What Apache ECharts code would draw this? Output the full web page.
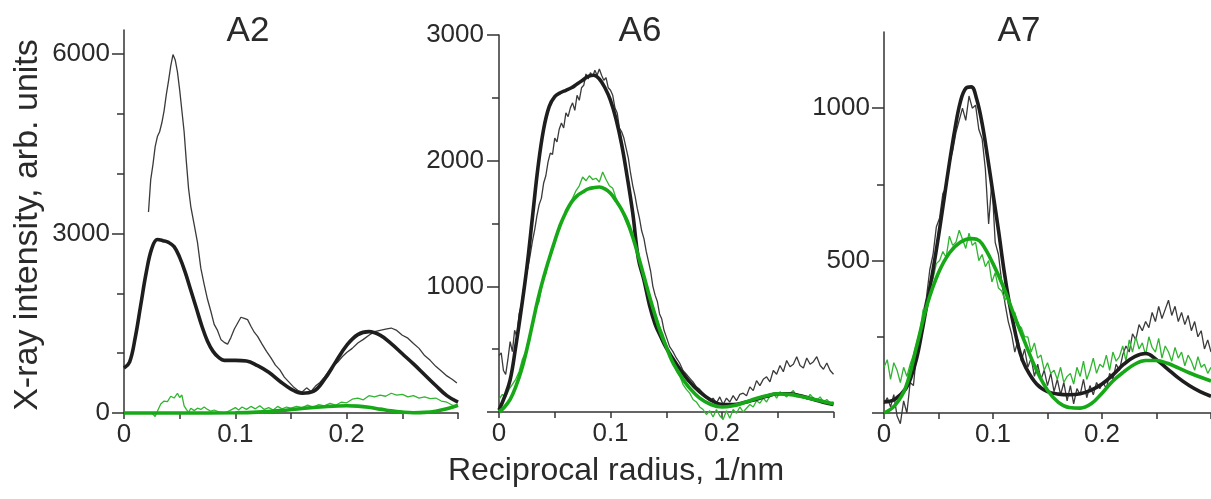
<!DOCTYPE html>
<html>
<head>
<meta charset="utf-8">
<script src="https://cdn.jsdelivr.net/npm/echarts@6/dist/echarts.min.js"></script>
<style>
html,body{margin:0;padding:0;background:#fff;}
#chart{width:1211px;height:499px;}
</style>
</head>
<body>
<div id="chart"></div>
<script>
// ---------- Panel titles & axis names ----------
const panelTitles = ['A2', 'A6', 'A7'];
const yAxisName = 'X-ray intensity, arb. units';
const xAxisName = 'Reciprocal radius, 1/nm';

// ---------- X ticks (shared) ----------
const xTickValues = [0, 0.05, 0.1, 0.15, 0.2, 0.25, 0.3];
const xLabelValues = [0, 0.1, 0.2];

// ---------- Y ticks per panel ----------
const A2_yMinorTicks = [0, 1000, 2000, 3000, 4000, 5000, 6000];
const A2_yLabels = [0, 3000, 6000];
const A6_yMinorTicks = [0, 500, 1000, 1500, 2000, 2500, 3000];
const A6_yLabels = [1000, 2000, 3000];
const A6_yMajorTicks = [0, 1000, 2000, 3000];
const A7_yMinorTicks = [0, 250, 500, 750, 1000];
const A7_yLabels = [500, 1000];
const A7_yMajorTicks = [0, 500, 1000];

// ---------- A2 ----------
const A2_expBlack = [[0.022,3360],[0.024,3900],[0.026,4150],[0.028,4450],[0.030,4620],[0.032,4700],[0.034,4850],[0.036,5050],[0.038,5320],[0.040,5550],[0.042,5800],[0.044,5990],[0.046,5900],[0.048,5700],[0.050,5400],[0.052,5050],[0.054,4700],[0.056,4200],[0.058,3750],[0.060,3450],[0.063,3150],[0.066,2850],[0.069,2420],[0.072,2150],[0.075,1900],[0.078,1700],[0.081,1480],[0.084,1380],[0.087,1230],[0.090,1180],[0.093,1150],[0.096,1260],[0.099,1400],[0.102,1500],[0.105,1600],[0.108,1580],[0.111,1560],[0.114,1450],[0.117,1350],[0.120,1280],[0.124,1150],[0.128,1030],[0.132,920],[0.136,800],[0.140,720],[0.144,600],[0.148,520],[0.152,440],[0.156,380],[0.160,350],[0.164,420],[0.168,360],[0.172,450],[0.176,510],[0.180,600],[0.184,700],[0.188,780],[0.192,850],[0.196,940],[0.200,1010],[0.205,1080],[0.210,1170],[0.215,1230],[0.220,1300],[0.225,1360],[0.230,1380],[0.235,1400],[0.240,1420],[0.245,1380],[0.250,1300],[0.255,1250],[0.260,1160],[0.265,1080],[0.270,960],[0.275,880],[0.280,780],[0.285,700],[0.290,620],[0.295,560],[0.299,500]];
const A2_fitBlack = [[0,750],[0.005,850],[0.01,1250],[0.015,1800],[0.02,2350],[0.025,2750],[0.03,2900],[0.035,2880],[0.04,2850],[0.045,2780],[0.05,2600],[0.055,2350],[0.06,2050],[0.065,1750],[0.07,1450],[0.075,1200],[0.08,1030],[0.085,930],[0.09,880],[0.1,880],[0.11,870],[0.12,790],[0.13,680],[0.14,530],[0.15,400],[0.16,330],[0.17,360],[0.18,560],[0.19,850],[0.2,1130],[0.21,1310],[0.22,1360],[0.23,1300],[0.24,1160],[0.25,990],[0.26,820],[0.27,640],[0.28,460],[0.29,290],[0.3,180]];
const A2_expGreen = [[0,0],[0.005,0],[0.01,0],[0.015,0],[0.02,0],[0.025,0],[0.028,-60],[0.03,30],[0.033,150],[0.036,200],[0.039,190],[0.042,280],[0.045,250],[0.048,330],[0.05,260],[0.052,300],[0.054,120],[0.056,60],[0.058,10],[0.06,80],[0.063,40],[0.066,80],[0.069,60],[0.072,100],[0.075,60],[0.078,30],[0.081,50],[0.085,20],[0.09,0],[0.095,40],[0.1,90],[0.103,50],[0.106,100],[0.11,60],[0.114,110],[0.118,70],[0.122,120],[0.126,60],[0.13,90],[0.134,50],[0.138,110],[0.142,70],[0.146,100],[0.15,80],[0.155,110],[0.16,90],[0.165,130],[0.17,100],[0.175,140],[0.18,120],[0.185,160],[0.19,130],[0.195,180],[0.2,170],[0.205,230],[0.21,250],[0.215,220],[0.22,290],[0.225,270],[0.23,300],[0.235,280],[0.24,330],[0.245,300],[0.25,310],[0.255,270],[0.26,290],[0.265,250],[0.27,270],[0.275,240],[0.28,250],[0.285,200],[0.29,180],[0.295,130],[0.299,100]];
const A2_fitGreen = [[0,0],[0.05,0],[0.1,5],[0.12,15],[0.14,40],[0.16,75],[0.18,105],[0.2,120],[0.21,115],[0.22,95],[0.23,65],[0.24,35],[0.25,15],[0.26,5],[0.27,10],[0.28,30],[0.29,70],[0.3,130]];

// ---------- A6 ----------
const A6_expBlack = [[0,450],[0.002,470],[0.004,330],[0.006,300],[0.008,420],[0.01,560],[0.012,480],[0.014,650],[0.016,600],[0.018,780],[0.02,850],[0.022,980],[0.024,1080],[0.026,1150],[0.028,1250],[0.03,1360],[0.032,1450],[0.034,1560],[0.036,1650],[0.038,1700],[0.04,1820],[0.042,1880],[0.044,1990],[0.046,2060],[0.048,2050],[0.05,2180],[0.052,2150],[0.054,2250],[0.056,2300],[0.058,2260],[0.06,2380],[0.062,2350],[0.064,2420],[0.066,2460],[0.068,2400],[0.07,2520],[0.072,2480],[0.074,2580],[0.076,2600],[0.078,2690],[0.08,2650],[0.082,2700],[0.084,2670],[0.086,2720],[0.088,2680],[0.09,2730],[0.092,2680],[0.094,2640],[0.096,2660],[0.098,2580],[0.1,2560],[0.102,2520],[0.104,2420],[0.106,2380],[0.108,2260],[0.11,2230],[0.112,2180],[0.114,2100],[0.116,2020],[0.118,1900],[0.12,1800],[0.122,1720],[0.124,1620],[0.126,1540],[0.128,1440],[0.13,1380],[0.132,1280],[0.134,1200],[0.136,1120],[0.138,1000],[0.14,930],[0.142,880],[0.144,780],[0.146,740],[0.148,650],[0.15,600],[0.153,520],[0.156,480],[0.159,430],[0.162,390],[0.165,330],[0.168,300],[0.171,270],[0.174,240],[0.177,200],[0.18,180],[0.183,150],[0.186,120],[0.189,90],[0.192,110],[0.195,70],[0.198,120],[0.201,60],[0.204,110],[0.207,80],[0.21,130],[0.213,90],[0.216,140],[0.219,150],[0.222,130],[0.225,200],[0.228,170],[0.231,250],[0.234,210],[0.237,260],[0.24,280],[0.243,240],[0.246,330],[0.249,300],[0.252,370],[0.255,320],[0.258,410],[0.261,360],[0.264,380],[0.267,440],[0.27,370],[0.273,350],[0.276,430],[0.279,380],[0.282,400],[0.285,440],[0.288,370],[0.291,340],[0.294,390],[0.297,330],[0.3,300]];
const A6_fitBlack = [[0,15],[0.005,120],[0.01,255],[0.015,520],[0.02,820],[0.025,1150],[0.03,1550],[0.035,1950],[0.04,2250],[0.045,2430],[0.05,2510],[0.055,2540],[0.06,2560],[0.065,2580],[0.07,2610],[0.075,2640],[0.08,2670],[0.085,2680],[0.09,2650],[0.095,2580],[0.1,2480],[0.105,2330],[0.11,2130],[0.115,1870],[0.12,1580],[0.125,1220],[0.13,1050],[0.135,850],[0.14,700],[0.145,600],[0.15,510],[0.16,370],[0.17,250],[0.18,160],[0.19,95],[0.2,60],[0.21,60],[0.22,75],[0.23,100],[0.24,125],[0.25,145],[0.26,145],[0.27,130],[0.28,105],[0.29,80],[0.3,60]];
const A6_expGreen = [[0,100],[0.003,140],[0.006,120],[0.009,180],[0.012,220],[0.015,260],[0.018,320],[0.021,420],[0.024,480],[0.027,600],[0.03,680],[0.033,820],[0.036,880],[0.039,1040],[0.042,1100],[0.045,1220],[0.048,1290],[0.051,1380],[0.054,1480],[0.057,1530],[0.06,1610],[0.063,1640],[0.066,1700],[0.069,1760],[0.072,1800],[0.075,1870],[0.078,1840],[0.081,1880],[0.084,1850],[0.087,1860],[0.09,1830],[0.093,1910],[0.096,1850],[0.099,1800],[0.102,1780],[0.105,1700],[0.108,1640],[0.111,1580],[0.114,1510],[0.117,1450],[0.12,1380],[0.123,1290],[0.126,1190],[0.129,1120],[0.132,1010],[0.135,930],[0.138,840],[0.141,760],[0.144,680],[0.147,620],[0.15,540],[0.153,450],[0.156,400],[0.159,330],[0.162,290],[0.165,220],[0.168,180],[0.171,150],[0.174,100],[0.177,80],[0.18,40],[0.183,20],[0.186,-20],[0.189,10],[0.192,-40],[0.195,20],[0.198,-30],[0.201,-60],[0.204,10],[0.207,-50],[0.21,20],[0.213,-10],[0.216,40],[0.219,0],[0.222,30],[0.225,60],[0.228,40],[0.231,90],[0.234,70],[0.237,110],[0.24,80],[0.243,130],[0.246,150],[0.249,110],[0.252,160],[0.255,140],[0.258,120],[0.261,150],[0.264,170],[0.267,120],[0.27,140],[0.273,130],[0.276,100],[0.279,140],[0.282,110],[0.285,90],[0.288,120],[0.291,80],[0.294,100],[0.297,70],[0.3,80]];
const A6_fitGreen = [[0,0],[0.005,40],[0.01,100],[0.015,200],[0.02,330],[0.025,500],[0.03,700],[0.035,900],[0.04,1070],[0.045,1220],[0.05,1360],[0.055,1490],[0.06,1590],[0.065,1670],[0.07,1720],[0.075,1750],[0.08,1775],[0.085,1785],[0.09,1790],[0.095,1775],[0.1,1740],[0.105,1680],[0.11,1610],[0.115,1520],[0.12,1390],[0.125,1240],[0.13,1080],[0.135,920],[0.14,770],[0.145,630],[0.15,520],[0.155,410],[0.16,330],[0.165,260],[0.17,200],[0.18,110],[0.19,60],[0.2,40],[0.21,50],[0.22,75],[0.23,105],[0.24,130],[0.25,145],[0.26,140],[0.27,125],[0.28,105],[0.29,85],[0.3,65]];

// ---------- A7 ----------
const A7_expBlack = [[0,30],[0.003,50],[0.006,20],[0.009,60],[0.012,-10],[0.015,-35],[0.018,40],[0.021,0],[0.024,100],[0.027,90],[0.03,200],[0.033,240],[0.036,330],[0.039,380],[0.042,470],[0.045,520],[0.048,610],[0.051,640],[0.054,720],[0.057,740],[0.06,820],[0.063,860],[0.066,920],[0.069,960],[0.072,1000],[0.075,960],[0.078,1040],[0.081,1000],[0.084,1010],[0.087,930],[0.09,900],[0.093,800],[0.096,620],[0.099,760],[0.102,560],[0.105,520],[0.108,430],[0.111,360],[0.114,300],[0.117,260],[0.12,200],[0.123,240],[0.126,170],[0.129,210],[0.132,150],[0.135,180],[0.138,120],[0.141,160],[0.144,110],[0.147,140],[0.15,90],[0.153,130],[0.156,70],[0.159,110],[0.162,60],[0.165,100],[0.168,40],[0.171,90],[0.174,30],[0.177,80],[0.18,60],[0.183,110],[0.186,50],[0.189,90],[0.192,60],[0.195,100],[0.198,80],[0.201,100],[0.204,80],[0.207,130],[0.21,110],[0.213,160],[0.216,140],[0.219,190],[0.222,220],[0.225,200],[0.228,260],[0.231,240],[0.234,290],[0.237,270],[0.24,300],[0.243,280],[0.246,330],[0.249,300],[0.252,350],[0.255,310],[0.258,340],[0.261,370],[0.264,320],[0.267,350],[0.27,300],[0.273,330],[0.276,290],[0.279,320],[0.282,270],[0.285,300],[0.288,250],[0.291,270],[0.294,210],[0.297,240],[0.3,200]];
const A7_fitBlack = [[0,36],[0.01,45],[0.02,80],[0.025,120],[0.03,180],[0.035,270],[0.04,370],[0.045,470],[0.05,580],[0.055,700],[0.06,820],[0.065,930],[0.07,1020],[0.075,1065],[0.08,1070],[0.085,1030],[0.09,950],[0.095,840],[0.1,720],[0.105,600],[0.11,470],[0.115,360],[0.12,270],[0.125,195],[0.13,150],[0.14,95],[0.15,70],[0.16,62],[0.17,60],[0.18,63],[0.19,75],[0.2,95],[0.21,125],[0.22,160],[0.23,185],[0.24,195],[0.25,175],[0.26,145],[0.27,115],[0.28,90],[0.29,70],[0.3,55]];
const A7_expGreen = [[0,150],[0.003,175],[0.006,110],[0.009,165],[0.012,140],[0.015,100],[0.018,150],[0.021,120],[0.024,160],[0.027,190],[0.03,230],[0.033,270],[0.036,340],[0.039,350],[0.042,430],[0.045,440],[0.048,490],[0.051,500],[0.054,530],[0.057,510],[0.06,580],[0.063,550],[0.066,560],[0.069,600],[0.072,570],[0.075,540],[0.078,590],[0.081,550],[0.084,560],[0.087,500],[0.09,520],[0.093,480],[0.096,500],[0.099,430],[0.102,460],[0.105,410],[0.108,400],[0.111,370],[0.114,390],[0.117,330],[0.12,330],[0.123,290],[0.126,280],[0.129,250],[0.132,250],[0.135,200],[0.138,230],[0.141,180],[0.144,190],[0.147,140],[0.15,165],[0.153,130],[0.156,140],[0.159,110],[0.162,150],[0.165,100],[0.168,120],[0.171,130],[0.174,95],[0.177,150],[0.18,120],[0.183,170],[0.186,110],[0.189,140],[0.192,180],[0.195,130],[0.198,160],[0.201,150],[0.204,190],[0.207,140],[0.21,200],[0.213,170],[0.216,185],[0.219,220],[0.222,170],[0.225,240],[0.228,200],[0.231,250],[0.234,210],[0.237,230],[0.24,190],[0.243,250],[0.246,215],[0.249,200],[0.252,245],[0.255,180],[0.258,220],[0.261,200],[0.264,170],[0.267,215],[0.27,180],[0.273,200],[0.276,155],[0.279,190],[0.282,170],[0.285,140],[0.288,185],[0.291,150],[0.294,160],[0.297,130],[0.3,150]];
const A7_fitGreen = [[0,0],[0.01,25],[0.02,85],[0.03,220],[0.04,360],[0.05,460],[0.06,525],[0.07,560],[0.08,572],[0.085,570],[0.09,555],[0.1,490],[0.11,410],[0.12,315],[0.13,225],[0.14,140],[0.15,75],[0.16,35],[0.17,18],[0.18,16],[0.19,30],[0.2,65],[0.21,105],[0.22,135],[0.23,160],[0.24,172],[0.25,172],[0.26,163],[0.27,148],[0.28,132],[0.29,118],[0.3,105]];

// ---------- Styling ----------
const FONT = '"Liberation Sans", Arial, Helvetica, sans-serif';
const TEXT = '#2a2a2a';
const AXIS = '#333';
const C_THICK_BLACK = '#1e1e1e';
const C_THIN_BLACK = '#3a3a3a';
const C_THICK_GREEN = '#17a817';
const C_THIN_GREEN = '#2fb52f';

const panels = [
  { grid: { left: 124, top: 30, width: 334, height: 383 }, yMax: 6400,
    minor: A2_yMinorTicks, major: A2_yLabels, labels: A2_yLabels, labelMargin: 14,
    exp: A2_expBlack, fit: A2_fitBlack, expG: A2_expGreen, fitG: A2_fitGreen },
  { grid: { left: 499, top: 35, width: 334.5, height: 377 }, yMax: 3000,
    minor: A6_yMinorTicks, major: A6_yMajorTicks, labels: A6_yLabels, labelMargin: 15,
    exp: A6_expBlack, fit: A6_fitBlack, expG: A6_expGreen, fitG: A6_fitGreen },
  { grid: { left: 884, top: 32, width: 333, height: 381 }, yMax: 1250,
    minor: A7_yMinorTicks, major: A7_yMajorTicks, labels: A7_yLabels, labelMargin: 14,
    exp: A7_expBlack, fit: A7_fitBlack, expG: A7_expGreen, fitG: A7_fitGreen }
];

const grids = [], xAxes = [], yAxes = [], series = [];
panels.forEach((p, i) => {
  grids.push(Object.assign({ containLabel: false }, p.grid));
  xAxes.push({
    type: 'value', gridIndex: i, min: 0, max: 0.3,
    axisLine: { show: true, lineStyle: { color: AXIS, width: 1.5 } },
    axisTick: { show: true, length: 6, customValues: xTickValues, lineStyle: { color: AXIS, width: 1.5 } },
    axisLabel: { show: true, customValues: xLabelValues, fontSize: 26, margin: 9, color: TEXT, fontFamily: FONT,
                 formatter: v => String(v) },
    splitLine: { show: false }
  });
  // main y axis with short ticks and labels
  yAxes.push({
    type: 'value', gridIndex: i, min: 0, max: p.yMax, position: 'left',
    axisLine: { show: true, lineStyle: { color: AXIS, width: 1.5 } },
    axisTick: { show: true, length: 7, customValues: p.minor, lineStyle: { color: AXIS, width: 1.5 } },
    axisLabel: { show: true, customValues: p.labels, fontSize: 26, margin: p.labelMargin, color: TEXT, fontFamily: FONT,
                 formatter: v => String(v) },
    splitLine: { show: false }
  });
  // overlay y axis: long ticks at labelled values
  yAxes.push({
    type: 'value', gridIndex: i, min: 0, max: p.yMax, position: 'left',
    axisLine: { show: false },
    axisTick: { show: true, length: 12, customValues: p.major, lineStyle: { color: AXIS, width: 1.5 } },
    axisLabel: { show: false },
    splitLine: { show: false }
  });
  const yi = i * 2;
  const base = { type: 'line', xAxisIndex: i, yAxisIndex: yi, showSymbol: false, symbol: 'none', clip: false, silent: true, animation: false };
  series.push(Object.assign({}, base, { data: p.exp, lineStyle: { color: C_THIN_BLACK, width: 1.3 } }));
  series.push(Object.assign({}, base, { data: p.expG, lineStyle: { color: C_THIN_GREEN, width: 1.3 } }));
  series.push(Object.assign({}, base, { data: p.fit, smooth: 0.4, lineStyle: { color: C_THICK_BLACK, width: 3.6 } }));
  series.push(Object.assign({}, base, { data: p.fitG, smooth: 0.4, lineStyle: { color: C_THICK_GREEN, width: 3.6 } }));
});

const titleX = [248, 640, 1019];
const graphics = panelTitles.map((t, i) => ({
  type: 'text', x: titleX[i], y: 31, silent: true,
  style: { text: t, fontSize: 35, fontFamily: FONT, fill: TEXT, align: 'center', verticalAlign: 'middle' }
}));
graphics.push({
  type: 'text', x: 28, y: 225, rotation: Math.PI / 2, silent: true,
  style: { text: yAxisName, fontSize: 34, fontFamily: FONT, fill: TEXT, align: 'center', verticalAlign: 'middle' }
});
graphics.push({
  type: 'text', x: 616, y: 471, silent: true,
  style: { text: xAxisName, fontSize: 32, fontFamily: FONT, fill: TEXT, align: 'center', verticalAlign: 'middle' }
});

const chart = echarts.init(document.getElementById('chart'), null, { renderer: 'canvas' });
chart.setOption({
  backgroundColor: '#ffffff',
  animation: false,
  grid: grids,
  xAxis: xAxes,
  yAxis: yAxes,
  series: series,
  graphic: graphics
});
</script>
</body>
</html>
